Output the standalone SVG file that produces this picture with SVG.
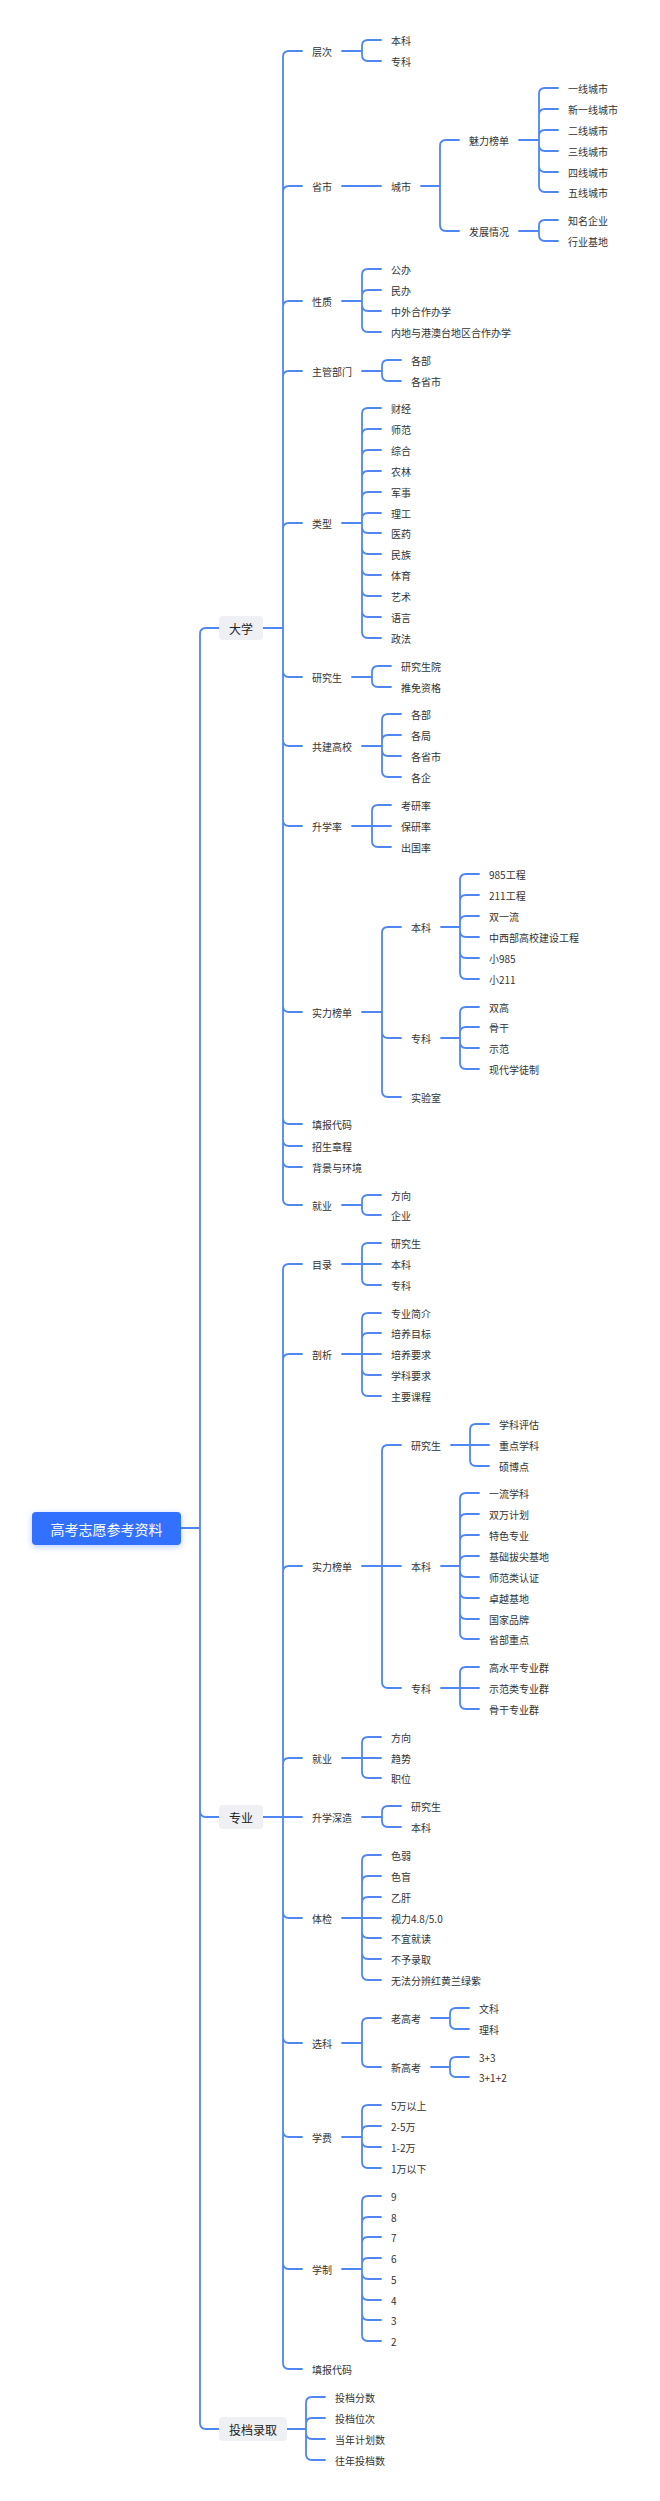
<svg xmlns="http://www.w3.org/2000/svg" width="660" height="2501" viewBox="0 0 660 2501">
<style>
.ln{fill:none;stroke:#4f86f2;stroke-width:1.8;stroke-linecap:round;stroke-linejoin:round}
.t{font-family:"Noto Sans CJK SC","Noto Sans",sans-serif;font-size:10px;fill:#333;dominant-baseline:central}
.t1{font-family:"Noto Sans CJK SC","Noto Sans",sans-serif;font-size:12px;fill:#222;dominant-baseline:central;text-anchor:middle}
.t0{font-family:"Noto Sans CJK SC","Noto Sans",sans-serif;font-size:14px;fill:#fff;dominant-baseline:central;text-anchor:middle}
.b1{fill:#eef0f3}
.b0{fill:#3370ff}
</style>
<defs>
<filter id="sh" x="-20%" y="-50%" width="140%" height="200%"><feDropShadow dx="0" dy="2" stdDeviation="3" flood-color="#3370ff" flood-opacity="0.35"/></filter>
</defs>
<rect width="660" height="2501" fill="#fff"/>
<g id="connectors">
<path class="ln" d="M181 1528H200M200 1528V634Q200 628 206 628H219M200 1528V1811Q200 1817 206 1817H219M200 1528V2423Q200 2429 206 2429H219"/>
<path class="ln" d="M263 628H283M283 628V57Q283 51 289 51H302M283 628V192Q283 186 289 186H302M283 628V307Q283 301 289 301H302M283 628V377Q283 371 289 371H302M283 628V529Q283 523 289 523H302M283 628V671Q283 677 289 677H302M283 628V740Q283 746 289 746H302M283 628V820Q283 826 289 826H302M283 628V1006Q283 1012 289 1012H302M283 628V1118Q283 1124 289 1124H302M283 628V1140Q283 1146 289 1146H302M283 628V1161Q283 1167 289 1167H302M283 628V1199Q283 1205 289 1205H302"/>
<path class="ln" d="M342 51H362M362 51V46Q362 40 368 40H381M362 51V55Q362 61 368 61H381"/>
<path class="ln" d="M342 186H381"/>
<path class="ln" d="M421 186H440M440 186V146Q440 140 446 140H459M440 186V225Q440 231 446 231H459"/>
<path class="ln" d="M519 140H539M539 140V94Q539 88 545 88H558M539 140V115Q539 109 545 109H558M539 140V136Q539 130 545 130H558M539 140V145Q539 151 545 151H558M539 140V166Q539 172 545 172H558M539 140V186Q539 192 545 192H558"/>
<path class="ln" d="M519 231H539M539 231V226Q539 220 545 220H558M539 231V235Q539 241 545 241H558"/>
<path class="ln" d="M342 301H362M362 301V275Q362 269 368 269H381M362 301V296Q362 290 368 290H381M362 301V305Q362 311 368 311H381M362 301V326Q362 332 368 332H381"/>
<path class="ln" d="M362 371H382M382 371V366Q382 360 388 360H401M382 371V375Q382 381 388 381H401"/>
<path class="ln" d="M342 523H362M362 523V414Q362 408 368 408H381M362 523V435Q362 429 368 429H381M362 523V456Q362 450 368 450H381M362 523V477Q362 471 368 471H381M362 523V498Q362 492 368 492H381M362 523V519Q362 513 368 513H381M362 523V527Q362 533 368 533H381M362 523V548Q362 554 368 554H381M362 523V569Q362 575 368 575H381M362 523V590Q362 596 368 596H381M362 523V611Q362 617 368 617H381M362 523V632Q362 638 368 638H381"/>
<path class="ln" d="M352 677H372M372 677V672Q372 666 378 666H391M372 677V681Q372 687 378 687H391"/>
<path class="ln" d="M362 746H382M382 746V720Q382 714 388 714H401M382 746V741Q382 735 388 735H401M382 746V750Q382 756 388 756H401M382 746V771Q382 777 388 777H401"/>
<path class="ln" d="M352 826H372M372 826V811Q372 805 378 805H391M372 826H391M372 826V841Q372 847 378 847H391"/>
<path class="ln" d="M362 1012H382M382 1012V933Q382 927 388 927H401M382 1012V1032Q382 1038 388 1038H401M382 1012V1091Q382 1097 388 1097H401"/>
<path class="ln" d="M441 927H460M460 927V880Q460 874 466 874H479M460 927V901Q460 895 466 895H479M460 927V922Q460 916 466 916H479M460 927V931Q460 937 466 937H479M460 927V952Q460 958 466 958H479M460 927V973Q460 979 466 979H479"/>
<path class="ln" d="M441 1038H460M460 1038V1013Q460 1007 466 1007H479M460 1038V1033Q460 1027 466 1027H479M460 1038V1042Q460 1048 466 1048H479M460 1038V1063Q460 1069 466 1069H479"/>
<path class="ln" d="M342 1205H362M362 1205V1201Q362 1195 368 1195H381M362 1205V1209Q362 1215 368 1215H381"/>
<path class="ln" d="M263 1817H283M283 1817V1270Q283 1264 289 1264H302M283 1817V1360Q283 1354 289 1354H302M283 1817V1572Q283 1566 289 1566H302M283 1817V1764Q283 1758 289 1758H302M283 1817H302M283 1817V1912Q283 1918 289 1918H302M283 1817V2037Q283 2043 289 2043H302M283 1817V2131Q283 2137 289 2137H302M283 1817V2263Q283 2269 289 2269H302M283 1817V2363Q283 2369 289 2369H302"/>
<path class="ln" d="M342 1264H362M362 1264V1249Q362 1243 368 1243H381M362 1264H381M362 1264V1279Q362 1285 368 1285H381"/>
<path class="ln" d="M342 1354H362M362 1354V1319Q362 1313 368 1313H381M362 1354V1339Q362 1333 368 1333H381M362 1354H381M362 1354V1369Q362 1375 368 1375H381M362 1354V1390Q362 1396 368 1396H381"/>
<path class="ln" d="M362 1566H382M382 1566V1451Q382 1445 388 1445H401M382 1566H401M382 1566V1682Q382 1688 388 1688H401"/>
<path class="ln" d="M451 1445H470M470 1445V1430Q470 1424 476 1424H489M470 1445H489M470 1445V1460Q470 1466 476 1466H489"/>
<path class="ln" d="M441 1566H460M460 1566V1499Q460 1493 466 1493H479M460 1566V1520Q460 1514 466 1514H479M460 1566V1541Q460 1535 466 1535H479M460 1566V1562Q460 1556 466 1556H479M460 1566V1571Q460 1577 466 1577H479M460 1566V1592Q460 1598 466 1598H479M460 1566V1613Q460 1619 466 1619H479M460 1566V1633Q460 1639 466 1639H479"/>
<path class="ln" d="M441 1688H460M460 1688V1673Q460 1667 466 1667H479M460 1688H479M460 1688V1703Q460 1709 466 1709H479"/>
<path class="ln" d="M342 1758H362M362 1758V1743Q362 1737 368 1737H381M362 1758H381M362 1758V1772Q362 1778 368 1778H381"/>
<path class="ln" d="M362 1817H382M382 1817V1812Q382 1806 388 1806H401M382 1817V1821Q382 1827 388 1827H401"/>
<path class="ln" d="M342 1918H362M362 1918V1861Q362 1855 368 1855H381M362 1918V1882Q362 1876 368 1876H381M362 1918V1903Q362 1897 368 1897H381M362 1918H381M362 1918V1932Q362 1938 368 1938H381M362 1918V1953Q362 1959 368 1959H381M362 1918V1974Q362 1980 368 1980H381"/>
<path class="ln" d="M342 2043H362M362 2043V2024Q362 2018 368 2018H381M362 2043V2061Q362 2067 368 2067H381"/>
<path class="ln" d="M431 2018H450M450 2018V2014Q450 2008 456 2008H469M450 2018V2023Q450 2029 456 2029H469"/>
<path class="ln" d="M431 2067H450M450 2067V2063Q450 2057 456 2057H469M450 2067V2071Q450 2077 456 2077H469"/>
<path class="ln" d="M342 2137H362M362 2137V2111Q362 2105 368 2105H381M362 2137V2132Q362 2126 368 2126H381M362 2137V2141Q362 2147 368 2147H381M362 2137V2162Q362 2168 368 2168H381"/>
<path class="ln" d="M342 2269H362M362 2269V2202Q362 2196 368 2196H381M362 2269V2223Q362 2217 368 2217H381M362 2269V2243Q362 2237 368 2237H381M362 2269V2264Q362 2258 368 2258H381M362 2269V2273Q362 2279 368 2279H381M362 2269V2294Q362 2300 368 2300H381M362 2269V2314Q362 2320 368 2320H381M362 2269V2335Q362 2341 368 2341H381"/>
<path class="ln" d="M287 2429H306M306 2429V2403Q306 2397 312 2397H325M306 2429V2424Q306 2418 312 2418H325M306 2429V2433Q306 2439 312 2439H325M306 2429V2454Q306 2460 312 2460H325"/>
</g>
<g id="root"><rect class="b0" x="32" y="1512" width="149" height="33" rx="4" filter="url(#sh)"/><text class="t0" x="106.5" y="1528.5">高考志愿参考资料</text></g>
<g id="daxue"><rect class="b1" x="219" y="616" width="44" height="24" rx="4"/><text class="t1" x="241" y="628">大学</text></g>
<g id="zhuanye"><rect class="b1" x="219" y="1805" width="44" height="24" rx="4"/><text class="t1" x="241" y="1817">专业</text></g>
<g id="toudang"><rect class="b1" x="219" y="2417" width="68" height="24" rx="4"/><text class="t1" x="253" y="2429">投档录取</text></g>
<g id="dx-cengci"><text class="t" x="312" y="51">层次</text></g>
<g id="dx-cengci-1"><text class="t" x="391" y="40">本科</text></g>
<g id="dx-cengci-2"><text class="t" x="391" y="61">专科</text></g>
<g id="dx-shengshi"><text class="t" x="312" y="186">省市</text></g>
<g id="dx-chengshi"><text class="t" x="391" y="186">城市</text></g>
<g id="dx-meili"><text class="t" x="469" y="140">魅力榜单</text></g>
<g id="dx-meili-1"><text class="t" x="568" y="88">一线城市</text></g>
<g id="dx-meili-2"><text class="t" x="568" y="109">新一线城市</text></g>
<g id="dx-meili-3"><text class="t" x="568" y="130">二线城市</text></g>
<g id="dx-meili-4"><text class="t" x="568" y="151">三线城市</text></g>
<g id="dx-meili-5"><text class="t" x="568" y="172">四线城市</text></g>
<g id="dx-meili-6"><text class="t" x="568" y="192">五线城市</text></g>
<g id="dx-fazhan"><text class="t" x="469" y="231">发展情况</text></g>
<g id="dx-fazhan-1"><text class="t" x="568" y="220">知名企业</text></g>
<g id="dx-fazhan-2"><text class="t" x="568" y="241">行业基地</text></g>
<g id="dx-xingzhi"><text class="t" x="312" y="301">性质</text></g>
<g id="dx-xingzhi-1"><text class="t" x="391" y="269">公办</text></g>
<g id="dx-xingzhi-2"><text class="t" x="391" y="290">民办</text></g>
<g id="dx-xingzhi-3"><text class="t" x="391" y="311">中外合作办学</text></g>
<g id="dx-xingzhi-4"><text class="t" x="391" y="332">内地与港澳台地区合作办学</text></g>
<g id="dx-zhuguan"><text class="t" x="312" y="371">主管部门</text></g>
<g id="dx-zhuguan-1"><text class="t" x="411" y="360">各部</text></g>
<g id="dx-zhuguan-2"><text class="t" x="411" y="381">各省市</text></g>
<g id="dx-leixing"><text class="t" x="312" y="523">类型</text></g>
<g id="dx-leixing-1"><text class="t" x="391" y="408">财经</text></g>
<g id="dx-leixing-2"><text class="t" x="391" y="429">师范</text></g>
<g id="dx-leixing-3"><text class="t" x="391" y="450">综合</text></g>
<g id="dx-leixing-4"><text class="t" x="391" y="471">农林</text></g>
<g id="dx-leixing-5"><text class="t" x="391" y="492">军事</text></g>
<g id="dx-leixing-6"><text class="t" x="391" y="513">理工</text></g>
<g id="dx-leixing-7"><text class="t" x="391" y="533">医药</text></g>
<g id="dx-leixing-8"><text class="t" x="391" y="554">民族</text></g>
<g id="dx-leixing-9"><text class="t" x="391" y="575">体育</text></g>
<g id="dx-leixing-10"><text class="t" x="391" y="596">艺术</text></g>
<g id="dx-leixing-11"><text class="t" x="391" y="617">语言</text></g>
<g id="dx-leixing-12"><text class="t" x="391" y="638">政法</text></g>
<g id="dx-yjs"><text class="t" x="312" y="677">研究生</text></g>
<g id="dx-yjs-1"><text class="t" x="401" y="666">研究生院</text></g>
<g id="dx-yjs-2"><text class="t" x="401" y="687">推免资格</text></g>
<g id="dx-gongjian"><text class="t" x="312" y="746">共建高校</text></g>
<g id="dx-gongjian-1"><text class="t" x="411" y="714">各部</text></g>
<g id="dx-gongjian-2"><text class="t" x="411" y="735">各局</text></g>
<g id="dx-gongjian-3"><text class="t" x="411" y="756">各省市</text></g>
<g id="dx-gongjian-4"><text class="t" x="411" y="777">各企</text></g>
<g id="dx-shengxue"><text class="t" x="312" y="826">升学率</text></g>
<g id="dx-shengxue-1"><text class="t" x="401" y="805">考研率</text></g>
<g id="dx-shengxue-2"><text class="t" x="401" y="826">保研率</text></g>
<g id="dx-shengxue-3"><text class="t" x="401" y="847">出国率</text></g>
<g id="dx-shili"><text class="t" x="312" y="1012">实力榜单</text></g>
<g id="dx-shili-bk"><text class="t" x="411" y="927">本科</text></g>
<g id="dx-shili-bk-1"><text class="t" x="489" y="874">985工程</text></g>
<g id="dx-shili-bk-2"><text class="t" x="489" y="895">211工程</text></g>
<g id="dx-shili-bk-3"><text class="t" x="489" y="916">双一流</text></g>
<g id="dx-shili-bk-4"><text class="t" x="489" y="937">中西部高校建设工程</text></g>
<g id="dx-shili-bk-5"><text class="t" x="489" y="958">小985</text></g>
<g id="dx-shili-bk-6"><text class="t" x="489" y="979">小211</text></g>
<g id="dx-shili-zk"><text class="t" x="411" y="1038">专科</text></g>
<g id="dx-shili-zk-1"><text class="t" x="489" y="1007">双高</text></g>
<g id="dx-shili-zk-2"><text class="t" x="489" y="1027">骨干</text></g>
<g id="dx-shili-zk-3"><text class="t" x="489" y="1048">示范</text></g>
<g id="dx-shili-zk-4"><text class="t" x="489" y="1069">现代学徒制</text></g>
<g id="dx-shili-sys"><text class="t" x="411" y="1097">实验室</text></g>
<g id="dx-tianbao"><text class="t" x="312" y="1124">填报代码</text></g>
<g id="dx-zhaosheng"><text class="t" x="312" y="1146">招生章程</text></g>
<g id="dx-beijing"><text class="t" x="312" y="1167">背景与环境</text></g>
<g id="dx-jiuye"><text class="t" x="312" y="1205">就业</text></g>
<g id="dx-jiuye-1"><text class="t" x="391" y="1195">方向</text></g>
<g id="dx-jiuye-2"><text class="t" x="391" y="1215">企业</text></g>
<g id="zy-mulu"><text class="t" x="312" y="1264">目录</text></g>
<g id="zy-mulu-1"><text class="t" x="391" y="1243">研究生</text></g>
<g id="zy-mulu-2"><text class="t" x="391" y="1264">本科</text></g>
<g id="zy-mulu-3"><text class="t" x="391" y="1285">专科</text></g>
<g id="zy-pouxi"><text class="t" x="312" y="1354">剖析</text></g>
<g id="zy-pouxi-1"><text class="t" x="391" y="1313">专业简介</text></g>
<g id="zy-pouxi-2"><text class="t" x="391" y="1333">培养目标</text></g>
<g id="zy-pouxi-3"><text class="t" x="391" y="1354">培养要求</text></g>
<g id="zy-pouxi-4"><text class="t" x="391" y="1375">学科要求</text></g>
<g id="zy-pouxi-5"><text class="t" x="391" y="1396">主要课程</text></g>
<g id="zy-shili"><text class="t" x="312" y="1566">实力榜单</text></g>
<g id="zy-shili-yjs"><text class="t" x="411" y="1445">研究生</text></g>
<g id="zy-shili-yjs-1"><text class="t" x="499" y="1424">学科评估</text></g>
<g id="zy-shili-yjs-2"><text class="t" x="499" y="1445">重点学科</text></g>
<g id="zy-shili-yjs-3"><text class="t" x="499" y="1466">硕博点</text></g>
<g id="zy-shili-bk"><text class="t" x="411" y="1566">本科</text></g>
<g id="zy-shili-bk-1"><text class="t" x="489" y="1493">一流学科</text></g>
<g id="zy-shili-bk-2"><text class="t" x="489" y="1514">双万计划</text></g>
<g id="zy-shili-bk-3"><text class="t" x="489" y="1535">特色专业</text></g>
<g id="zy-shili-bk-4"><text class="t" x="489" y="1556">基础拔尖基地</text></g>
<g id="zy-shili-bk-5"><text class="t" x="489" y="1577">师范类认证</text></g>
<g id="zy-shili-bk-6"><text class="t" x="489" y="1598">卓越基地</text></g>
<g id="zy-shili-bk-7"><text class="t" x="489" y="1619">国家品牌</text></g>
<g id="zy-shili-bk-8"><text class="t" x="489" y="1639">省部重点</text></g>
<g id="zy-shili-zk"><text class="t" x="411" y="1688">专科</text></g>
<g id="zy-shili-zk-1"><text class="t" x="489" y="1667">高水平专业群</text></g>
<g id="zy-shili-zk-2"><text class="t" x="489" y="1688">示范类专业群</text></g>
<g id="zy-shili-zk-3"><text class="t" x="489" y="1709">骨干专业群</text></g>
<g id="zy-jiuye"><text class="t" x="312" y="1758">就业</text></g>
<g id="zy-jiuye-1"><text class="t" x="391" y="1737">方向</text></g>
<g id="zy-jiuye-2"><text class="t" x="391" y="1758">趋势</text></g>
<g id="zy-jiuye-3"><text class="t" x="391" y="1778">职位</text></g>
<g id="zy-shenzao"><text class="t" x="312" y="1817">升学深造</text></g>
<g id="zy-shenzao-1"><text class="t" x="411" y="1806">研究生</text></g>
<g id="zy-shenzao-2"><text class="t" x="411" y="1827">本科</text></g>
<g id="zy-tijian"><text class="t" x="312" y="1918">体检</text></g>
<g id="zy-tijian-1"><text class="t" x="391" y="1855">色弱</text></g>
<g id="zy-tijian-2"><text class="t" x="391" y="1876">色盲</text></g>
<g id="zy-tijian-3"><text class="t" x="391" y="1897">乙肝</text></g>
<g id="zy-tijian-4"><text class="t" x="391" y="1918">视力4.8/5.0</text></g>
<g id="zy-tijian-5"><text class="t" x="391" y="1938">不宜就读</text></g>
<g id="zy-tijian-6"><text class="t" x="391" y="1959">不予录取</text></g>
<g id="zy-tijian-7"><text class="t" x="391" y="1980">无法分辨红黄兰绿紫</text></g>
<g id="zy-xuanke"><text class="t" x="312" y="2043">选科</text></g>
<g id="zy-xuanke-lao"><text class="t" x="391" y="2018">老高考</text></g>
<g id="zy-xuanke-lao-1"><text class="t" x="479" y="2008">文科</text></g>
<g id="zy-xuanke-lao-2"><text class="t" x="479" y="2029">理科</text></g>
<g id="zy-xuanke-xin"><text class="t" x="391" y="2067">新高考</text></g>
<g id="zy-xuanke-xin-1"><text class="t" x="479" y="2057">3+3</text></g>
<g id="zy-xuanke-xin-2"><text class="t" x="479" y="2077">3+1+2</text></g>
<g id="zy-xuefei"><text class="t" x="312" y="2137">学费</text></g>
<g id="zy-xuefei-1"><text class="t" x="391" y="2105">5万以上</text></g>
<g id="zy-xuefei-2"><text class="t" x="391" y="2126">2-5万</text></g>
<g id="zy-xuefei-3"><text class="t" x="391" y="2147">1-2万</text></g>
<g id="zy-xuefei-4"><text class="t" x="391" y="2168">1万以下</text></g>
<g id="zy-xuezhi"><text class="t" x="312" y="2269">学制</text></g>
<g id="zy-xuezhi-9"><text class="t" x="391" y="2196">9</text></g>
<g id="zy-xuezhi-8"><text class="t" x="391" y="2217">8</text></g>
<g id="zy-xuezhi-7"><text class="t" x="391" y="2237">7</text></g>
<g id="zy-xuezhi-6"><text class="t" x="391" y="2258">6</text></g>
<g id="zy-xuezhi-5"><text class="t" x="391" y="2279">5</text></g>
<g id="zy-xuezhi-4"><text class="t" x="391" y="2300">4</text></g>
<g id="zy-xuezhi-3"><text class="t" x="391" y="2320">3</text></g>
<g id="zy-xuezhi-2"><text class="t" x="391" y="2341">2</text></g>
<g id="zy-tianbao"><text class="t" x="312" y="2369">填报代码</text></g>
<g id="td-1"><text class="t" x="335" y="2397">投档分数</text></g>
<g id="td-2"><text class="t" x="335" y="2418">投档位次</text></g>
<g id="td-3"><text class="t" x="335" y="2439">当年计划数</text></g>
<g id="td-4"><text class="t" x="335" y="2460">往年投档数</text></g>
</svg>
